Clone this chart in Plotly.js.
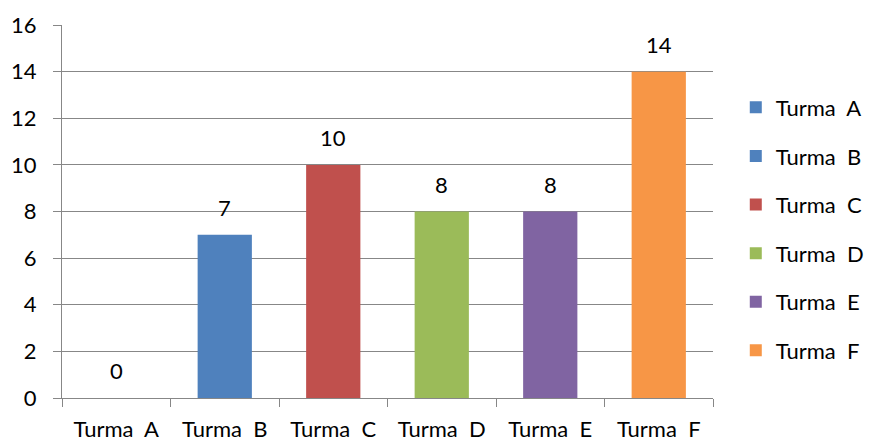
<!DOCTYPE html>
<html>
<head>
<meta charset="utf-8">
<script src="https://cdn.plot.ly/plotly-3.0.1.min.js"></script>
<style>
  html, body { margin: 0; padding: 0; background: #fff; }
  #chart { width: 875px; height: 441px; }
</style>
</head>
<body>
<div id="chart"></div>
<script>
// Turmas and their counts
const categories = ["Turma\u00a0\u00a0A", "Turma\u00a0\u00a0B", "Turma\u00a0\u00a0C", "Turma\u00a0\u00a0D", "Turma\u00a0\u00a0E", "Turma\u00a0\u00a0F"];
const values = [0, 7, 10, 8, 8, 14];
const colors = ["#4F81BD", "#4F81BD", "#C0504D", "#9BBB59", "#8064A2", "#F79646"];
const yTicks = [0, 2, 4, 6, 8, 10, 12, 14, 16];

const FONT = "Lato, 'Open Sans', sans-serif";
const FSIZE = 22;
const GRID = "#878787";

// one trace per turma so each gets its own legend entry
const traces = categories.map((name, i) => ({
  type: "bar",
  name: name,
  legendgroup: "g" + i,
  x: [name],
  y: [values[i]],
  width: 0.5,
  marker: { color: colors[i] },
  hoverinfo: "x+y"
}));

// value labels above each bar
const annotations = categories.map((name, i) => ({
  x: name,
  y: values[i],
  xref: "x",
  yref: "y",
  text: String(values[i]),
  showarrow: false,
  yanchor: "bottom",
  yshift: 12,
  font: { family: FONT, size: FSIZE, color: "#000" }
}));

const layout = {
  width: 875,
  height: 441,
  margin: { l: 62, r: 162, t: 25, b: 43, autoexpand: false },
  paper_bgcolor: "#fff",
  plot_bgcolor: "#fff",
  barmode: "overlay",
  font: { family: FONT, size: FSIZE, color: "#000" },
  showlegend: true,
  legend: {
    x: 1.035,
    xanchor: "left",
    y: 0.453,
    yanchor: "middle",
    font: { family: FONT, size: FSIZE, color: "#000" },
    tracegroupgap: 17,
    itemclick: false,
    itemdoubleclick: false
  },
  xaxis: {
    type: "category",
    categoryorder: "array",
    categoryarray: categories,
    showline: true,
    linecolor: GRID,
    linewidth: 1,
    ticks: "outside",
    tickson: "boundaries",
    ticklen: 8,
    tickcolor: GRID,
    showgrid: false,
    ticklabelstandoff: 12,
    tickfont: { family: FONT, size: FSIZE, color: "#000" },
    fixedrange: true
  },
  yaxis: {
    range: [0, 16],
    tickvals: yTicks,
    ticktext: yTicks.map(String),
    showline: true,
    linecolor: GRID,
    linewidth: 1,
    ticks: "outside",
    ticklen: 8,
    tickcolor: GRID,
    showgrid: true,
    gridcolor: GRID,
    gridwidth: 1,
    zeroline: false,
    ticklabelstandoff: 12,
    tickfont: { family: FONT, size: FSIZE, color: "#000" },
    fixedrange: true
  },
  annotations: annotations
};

Plotly.newPlot("chart", traces, layout, { displayModeBar: false, staticPlot: true });
</script>
</body>
</html>
